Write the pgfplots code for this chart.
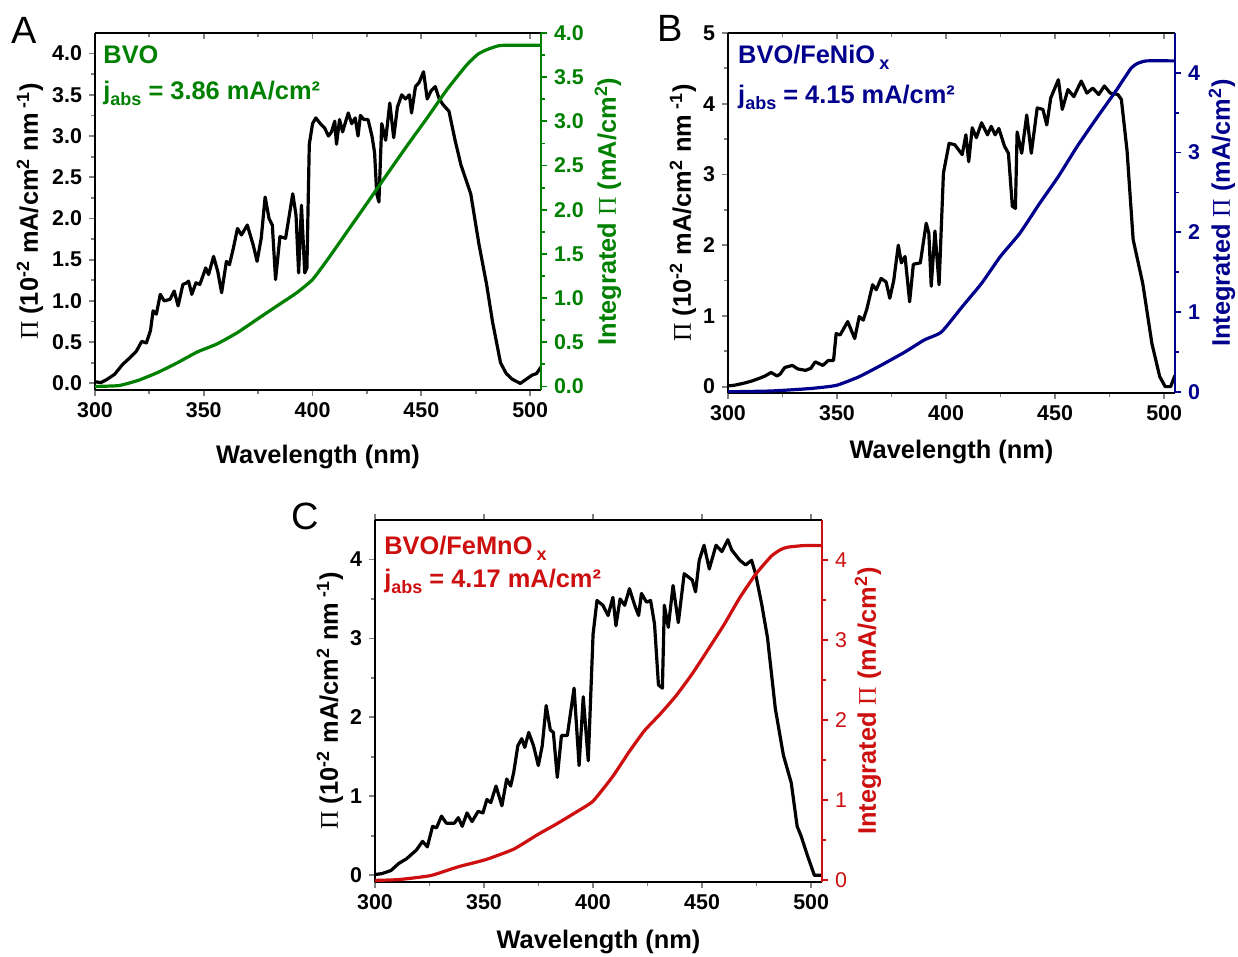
\documentclass[border=0pt]{standalone}
\usepackage{fontspec}
\setmainfont{Liberation Sans}
\newfontfamily\serifPi{Liberation Serif}
\usepackage{pgfplots}
\pgfplotsset{compat=1.18}
\definecolor{cgreen}{RGB}{0,128,0}
\definecolor{cblue}{RGB}{0,0,140}
\definecolor{cred}{RGB}{205,15,15}

\newcommand{\Pilabel}{{\serifPi\mdseries Π} (10\textsuperscript{-2} mA/cm\textsuperscript{2} nm\textsuperscript{ -1})}
\newcommand{\Intlabel}{Integrated {\serifPi\mdseries Π} (mA/cm\textsuperscript{2})}
\newcommand{\sub}[1]{\raisebox{-0.45ex}{\fontsize{9}{9}\selectfont #1}}

\tikzset{note/.style={anchor=west, inner sep=0pt, text=#1, font=\fontsize{12.7}{14}\selectfont\bfseries}}

\pgfplotsset{
  panel/.style={
    scale only axis, xmin=300, xmax=505, xtick={300,350,...,500},
    minor x tick num=1, minor y tick num=1,
    tick align=outside, axis line style={line width=1pt,-},
    major tick length=3pt, minor tick length=1.8pt,
    tick style={line width=0.9pt},
    tick label style={font=\fontsize{10.7}{12}\selectfont\bfseries},
    /pgf/number format/assume math mode=true,
    label style={font=\fontsize{12.7}{14}\selectfont\bfseries},
    xlabel style={at={(axis description cs:0.5,0)},anchor=center},
    ylabel style={anchor=center},
  },
  leftax/.style={panel, axis y line*=left, axis x line*=bottom,
    xlabel={Wavelength (nm)}, ylabel={\Pilabel}},
  rightax/.style={panel, axis x line=none, axis y line*=right,
    axis line style={#1,line width=1pt,-}, tick style={#1,line width=0.9pt},
    yticklabel style={text=#1}, ylabel style={text=#1},
    ylabel={\Intlabel}},
  topax/.style={panel, axis y line=none, axis x line*=top, xticklabels={},
    ymin=0, ymax=1},
  blackline/.style={black, line width=1.6pt, line join=round},
  intline/.style={#1, line width=1.6pt, smooth, tension=0.3},
}

\begin{document}
\begin{tikzpicture}
\useasboundingbox (0,0) rectangle (619pt,478.5pt);

% ---------------- A ----------------
\begin{axis}[topax, tick align=inside, at={(47.5pt,283.5pt)}, anchor=south west,
  width=223pt, height=178.5pt]
\end{axis}
\begin{axis}[leftax, at={(47.5pt,283.5pt)}, anchor=south west,
  width=223pt, height=178.5pt, ymin=-0.08, ymax=4.25,
  ytick={0,0.5,...,4.0},
  yticklabel style={/pgf/number format/.cd,fixed,fixed zerofill,precision=1},
  xlabel style={yshift=-33.5pt},
  ylabel style={at={(axis description cs:0,0.5)},yshift=32.5pt}]
\addplot[blackline] coordinates {
(300,0.02)(302.7,0.01)(305,0.04)(309,0.11)(312.7,0.23)(316,0.31)(319,0.39)
(321.5,0.51)(323.6,0.49)(325.5,0.64)(326.7,0.88)(328.2,0.84)(330,1.08)(331.8,1.0)
(334.5,1.02)(336.4,1.12)(338.2,0.94)(340.4,1.2)(342.2,1.22)(343,1.24)(344.5,1.08)
(346.4,1.22)(348.2,1.2)(350.9,1.4)(352.2,1.32)(354.5,1.54)(356.4,1.36)(358.2,1.1)
(360.4,1.48)(361.8,1.44)(363.6,1.64)(365.5,1.88)(367.3,1.8)(370,1.92)(372.7,1.68)
(374.5,1.48)(376.4,1.76)(378.2,2.26)(380,2.0)(381.5,1.92)(383,1.26)(385,1.78)
(387.6,1.76)(390.9,2.3)(392.4,2.04)(393.6,1.34)(394.9,2.16)(396.4,1.34)(397.4,1.4)
(398.5,2.9)(400,3.15)(401.5,3.22)(403.6,3.15)(405.5,3.1)(407.3,3.0)(408.7,3.05)
(410.2,3.18)(411,2.9)(412.4,3.2)(413.8,3.05)(416.4,3.28)(418,3.15)(419.6,3.22)
(420.9,3.0)(422,3.25)(423.6,3.2)(425.5,3.2)(427.3,3.0)(428.5,2.8)(429.5,2.3)
(430.5,2.2)(431.8,3.15)(433.6,2.95)(435.5,3.4)(437.3,2.98)(439,3.35)(441,3.5)
(442.7,3.45)(444.5,3.5)(445.5,3.28)(447.3,3.6)(449,3.65)(451,3.78)(452.7,3.45)
(454.5,3.55)(456.4,3.6)(458.2,3.45)(460,3.38)(462.7,3.3)(465.5,2.95)(468.2,2.65)
(472.7,2.3)(476.4,1.7)(480,1.2)(482.7,0.75)(486.4,0.25)(489,0.12)(491.8,0.05)
(495.5,0.0)(498.2,0.05)(500.9,0.1)(503,0.12)(505,0.2)};
\end{axis}
\begin{axis}[rightax=cgreen, at={(47.5pt,283.5pt)}, anchor=south west,
  width=223pt, height=178.5pt, ymin=-0.04, ymax=4.0,
  ytick={0,0.5,...,4.0},
  yticklabel style={/pgf/number format/.cd,fixed,fixed zerofill,precision=1},
  ylabel style={at={(axis description cs:1,0.5)},yshift=-33.5pt}]
\addplot[intline=cgreen] coordinates {
(300,0.0)(311,0.01)(320,0.07)(329,0.16)(338,0.27)(347,0.39)(356,0.48)(365.5,0.61)
(374.5,0.76)(383.6,0.91)(392.7,1.06)(400,1.21)(407.3,1.45)(416.4,1.77)(425.5,2.09)
(434.5,2.41)(443.6,2.73)(452.7,3.04)(461.8,3.36)(470.9,3.64)(476,3.76)(480,3.81)
(484,3.845)(487.3,3.86)(505,3.86)};
\node[note=cgreen] at (rel axis cs:0.018,0.938) {BVO};
\node[note=cgreen] at (rel axis cs:0.018,0.832) {j\sub{abs} = 3.86 mA/cm²};
\end{axis}

% ---------------- B ----------------
\begin{axis}[topax, tick align=inside, at={(364pt,282pt)}, anchor=south west,
  width=223.5pt, height=180pt]
\end{axis}
\begin{axis}[leftax, at={(364pt,282pt)}, anchor=south west,
  width=223.5pt, height=180pt, ymin=-0.09, ymax=5,
  ytick={0,1,...,5},
  xlabel style={yshift=-29.5pt},
  ylabel style={at={(axis description cs:0,0.5)},yshift=22.5pt}]
\addplot[blackline] coordinates {
(300,0.01)(303,0.02)(307.5,0.05)(311,0.08)(314.6,0.12)(317,0.15)(319.8,0.2)
(322.5,0.15)(324,0.18)(326,0.27)(329.5,0.3)(332,0.25)(335.6,0.23)(338,0.26)
(340,0.35)(343.5,0.3)(346,0.37)(348.4,0.37)(349.6,0.75)(351.4,0.73)(354.9,0.92)
(358.1,0.68)(360.2,0.99)(362,0.94)(363.7,1.1)(366.3,1.44)(368,1.37)(370.2,1.53)
(372.5,1.48)(374.2,1.25)(376,1.5)(378.1,2.0)(379.5,1.75)(381.2,1.84)(383.3,1.2)
(385,1.73)(388.2,1.75)(390.9,2.31)(392.1,2.17)(393.2,1.42)(394.9,2.2)(396.8,1.44)
(398.8,3.02)(401.4,3.44)(404,3.42)(407.4,3.28)(409.1,3.56)(410.4,3.18)(412,3.66)
(413.9,3.52)(416.3,3.73)(419,3.56)(420.7,3.68)(422.5,3.56)(424.2,3.65)(426.8,3.4)
(428.6,3.3)(430.4,2.55)(431.8,2.52)(432.6,3.6)(434.7,3.3)(437,3.84)(439.1,3.3)
(441.8,3.94)(444.4,3.92)(446.2,3.7)(448,4.08)(451.5,4.34)(453.3,3.92)(455.9,4.2)
(458.6,4.1)(462,4.32)(464.6,4.15)(467.3,4.22)(470,4.13)(472.6,4.25)(475.3,4.15)
(478.8,4.13)(480.4,4.06)(483,3.34)(485.8,2.08)(490.2,1.46)(494.4,0.61)(498,0.14)
(500.5,0.0)(503,0.0)(505,0.16)};
\end{axis}
\begin{axis}[rightax=cblue, at={(364pt,282pt)}, anchor=south west,
  width=223.5pt, height=180pt, ymin=-0.015, ymax=4.5,
  ytick={0,1,...,4},
  ylabel style={at={(axis description cs:1,0.5)},yshift=-23.5pt}]
\addplot[intline=cblue] coordinates {
(300,0.0)(319.8,0.01)(337.4,0.04)(349.6,0.08)(360.2,0.19)(370.7,0.34)(381.2,0.5)
(390,0.65)(397.9,0.75)(407.5,1.07)(416.3,1.36)(425,1.7)(433.9,1.99)(442.6,2.35)
(451.5,2.7)(460.2,3.08)(469,3.43)(477.8,3.77)(484.9,4.06)(488,4.12)(492,4.15)(505,4.15)};
\node[note=cblue] at (rel axis cs:0.022,0.933) {BVO/FeNiO\,\sub{x}};
\node[note=cblue] at (rel axis cs:0.022,0.822) {j\sub{abs} = 4.15 mA/cm²};
\end{axis}

% ---------------- C ----------------
\begin{axis}[topax, minor x tick num=0, at={(187.5pt,37.5pt)}, anchor=south west,
  width=223.5pt, height=181pt]
\end{axis}
\begin{axis}[leftax, at={(187.5pt,37.5pt)}, anchor=south west,
  width=223.5pt, height=181pt, ymin=-0.085, ymax=4.5,
  ytick={0,1,...,4},
  xlabel style={yshift=-30pt},
  ylabel style={at={(axis description cs:0,0.5)},yshift=22.5pt}]
\addplot[blackline] coordinates {
(300,0.01)(303,0.02)(307.3,0.06)(310.9,0.15)(314.5,0.21)(319,0.32)(321.8,0.43)
(324,0.36)(326.4,0.62)(328.2,0.6)(330.5,0.75)(332.7,0.66)(336.4,0.66)(338.2,0.73)
(340,0.62)(342.2,0.79)(344.5,0.68)(347.3,0.81)(349.5,0.79)(351.3,0.96)(353.1,0.92)
(355.5,1.13)(358.2,0.88)(360.4,1.22)(362.2,1.13)(363.6,1.3)(365.5,1.64)(367.3,1.73)
(368.7,1.62)(370.5,1.81)(372.7,1.64)(374.9,1.39)(376.7,1.64)(378.5,2.15)(380.4,1.84)
(381.8,1.81)(383.6,1.24)(385.5,1.77)(388.2,1.77)(391.3,2.37)(393.6,1.39)(395.5,2.26)
(397.8,1.45)(400,3.05)(401.8,3.48)(404.5,3.42)(406.9,3.29)(409.1,3.52)(410.5,3.16)
(412.4,3.5)(414.5,3.42)(416.7,3.63)(419.1,3.42)(420.9,3.29)(422.2,3.57)(424.5,3.46)
(426.4,3.48)(428.2,3.18)(430,2.41)(431.8,2.37)(432.7,3.42)(434.5,3.14)(436.7,3.67)
(439.1,3.2)(441.8,3.82)(445.5,3.74)(447,3.59)(448.7,3.99)(450.9,4.18)(453.3,3.88)
(456.4,4.18)(459.1,4.1)(461.8,4.25)(463.6,4.12)(467.3,3.99)(470,3.93)(472.7,3.99)
(474.5,3.82)(477.3,3.44)(480,3.01)(483.6,2.11)(487.3,1.52)(490.9,1.17)(493.6,0.62)
(495.5,0.49)(498.2,0.26)(501.5,0.0)(504.5,0.0)};
\end{axis}
\begin{axis}[rightax=cred, at={(187.5pt,37.5pt)}, anchor=south west,
  width=223.5pt, height=181pt, ymin=-0.02, ymax=4.5,
  ytick={0,1,...,4},
  yticklabel style={font=\fontsize{10.7}{12}\selectfont\mdseries},
  ylabel style={at={(axis description cs:1,0.5)},yshift=-23pt}]
\addplot[intline=cred] coordinates {
(300,0.0)(310.9,0.01)(325.5,0.06)(338.2,0.17)(350.9,0.26)(363.6,0.39)(374.5,0.57)
(383.6,0.71)(392.7,0.86)(400,0.99)(409.1,1.3)(416.4,1.6)(423.6,1.87)(430.9,2.08)
(438.2,2.31)(445.5,2.58)(452.7,2.88)(460,3.19)(467.3,3.53)(474.5,3.82)(481.8,4.05)
(486,4.13)(489.1,4.16)(496.4,4.18)(505,4.18)};
\node[note=cred] at (rel axis cs:0.02,0.923) {BVO/FeMnO\,\sub{x}};
\node[note=cred] at (rel axis cs:0.02,0.831) {j\sub{abs} = 4.17 mA/cm²};
\end{axis}

\node[font=\fontsize{19}{20}\selectfont] at (12pt,463.5pt) {A};
\node[font=\fontsize{19}{20}\selectfont] at (335pt,464.5pt) {B};
\node[font=\fontsize{19}{20}\selectfont] at (152.5pt,220.5pt) {C};
\end{tikzpicture}
\end{document}
